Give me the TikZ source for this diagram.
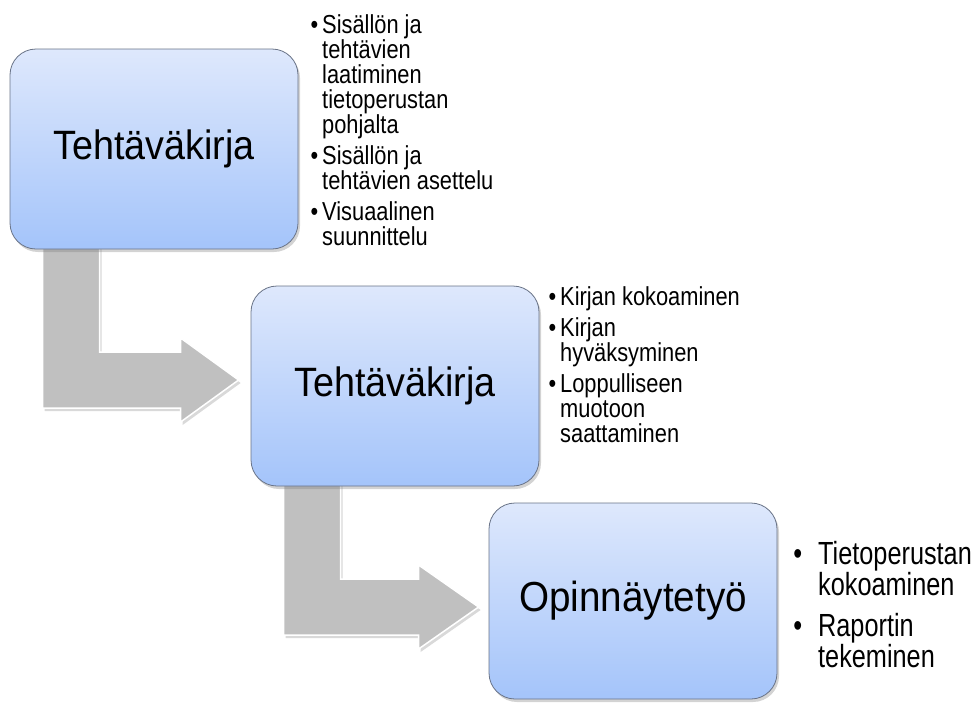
\documentclass[tikz,border=0pt]{standalone}
\usepackage{fontspec}
\setmainfont{Liberation Sans}
\newfontfamily\labelfont[FakeStretch=0.92]{Liberation Sans}
\newfontfamily\narrowfont[FakeStretch=0.84]{Liberation Sans}
\newfontfamily\narrowerfont[FakeStretch=0.79]{Liberation Sans}
\usepackage{tikz}
\usetikzlibrary{positioning,calc,shadows,backgrounds}
\usepackage{xcolor}
\definecolor{boxtop}{RGB}{222,232,252}
\definecolor{boxbottom}{RGB}{164,196,250}
\definecolor{boxline}{RGB}{105,115,135}
\definecolor{arrowgray}{RGB}{192,192,192}
\newcommand{\bul}[1][4pt]{\llap{\textbullet\hspace{#1}}}

\begin{document}
\begin{tikzpicture}[
    x=1pt, y=-1pt,
    stage/.style={rectangle, rounded corners=26pt, draw=boxline, line width=0.8pt, top color=boxtop, bottom color=boxbottom, minimum width=288pt, minimum height=200pt, inner sep=0pt, font=\labelfont\fontsize{41}{44}\selectfont, drop shadow={opacity=0.35, shadow xshift=2pt, shadow yshift=-3pt}},
    list/.style={anchor=north west, align=left, inner sep=0pt, font=\narrowfont\fontsize{26}{25}\selectfont},
    flow/.style={fill=arrowgray, draw=white, line width=1.5pt, drop shadow={opacity=0.3, shadow xshift=2pt, shadow yshift=-3pt}}
]
    \useasboundingbox (0,0) rectangle (979,702);

    % Stages
    \node[stage] (tk1) at (154,149) {Tehtäväkirja};
    \node[stage] (tk2) at (395,386) {Tehtäväkirja};
    \node[stage, minimum height=196pt, font=\labelfont\fontsize{42}{44}\selectfont] (ot) at (633,601) {Opinnäytetyö};

    % Task lists
    \node[list] (tk1list) at (322,14) {
        \bul Sisällön ja\\ tehtävien\\ laatiminen\\ tietoperustan\\ pohjalta\\[6pt]
        \bul Sisällön ja\\ tehtävien asettelu\\[6pt]
        \bul Visuaalinen\\ suunnittelu
    };
    \node[list] (tk2list) at (560,286) {
        \bul Kirjan kokoaminen\\[6pt]
        \bul Kirjan\\ hyväksyminen\\[6pt]
        \bul Loppulliseen\\ muotoon\\ saattaminen
    };
    \node[list, font=\narrowerfont\fontsize{32}{31}\selectfont] (otlist) at (818,541) {
        \bul[16pt]Tietoperustan\\ kokoaminen\\[10pt]
        \bul[16pt]Raportin\\ tekeminen
    };

    % Bent arrows
    \begin{scope}[on background layer]
        \draw[flow] let \p1=(tk1.south west), \p2=($(tk2.west)+(0,-6)$) in
            (\x1+33pt,\y1+5pt) -- (\x1+90pt,\y1+5pt) -- (\x1+90pt,\y2+28pt) -- (\x2-70pt,\y2+28pt) -- (\x2-70pt,\y2+42pt) -- (\x2-12pt,\y2) -- (\x2-70pt,\y2-42pt) -- (\x2-70pt,\y2-28pt) -- (\x1+33pt,\y2-28pt) -- cycle;
        \draw[flow] let \p1=(tk2.south west), \p2=($(ot.west)+(0,6)$) in
            (\x1+33pt,\y1+5pt) -- (\x1+90pt,\y1+5pt) -- (\x1+90pt,\y2+28pt) -- (\x2-70pt,\y2+28pt) -- (\x2-70pt,\y2+42pt) -- (\x2-10pt,\y2) -- (\x2-70pt,\y2-42pt) -- (\x2-70pt,\y2-28pt) -- (\x1+33pt,\y2-28pt) -- cycle;
    \end{scope}
\end{tikzpicture}
\end{document}
